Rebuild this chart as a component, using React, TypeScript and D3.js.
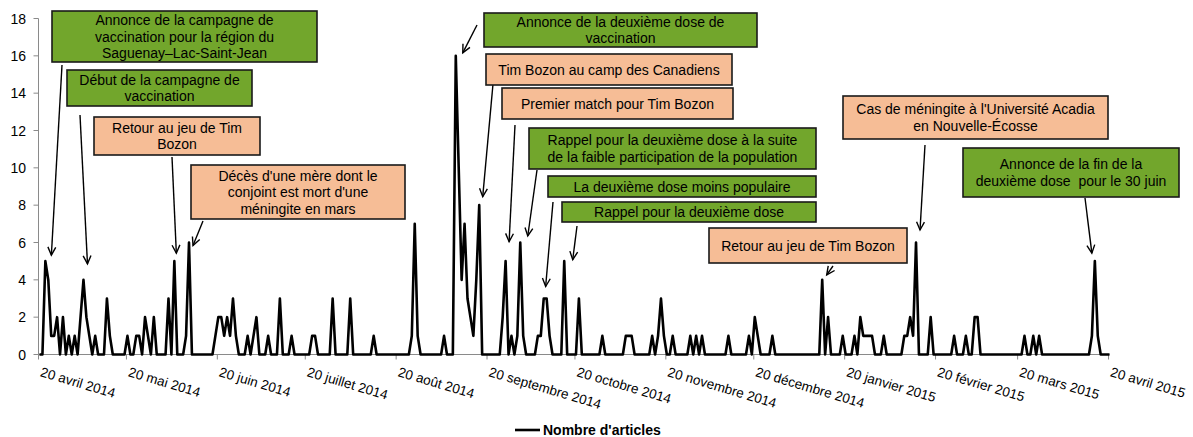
import React from 'react';
import * as d3 from 'd3';

// ---------- DATA ----------
const startDate = '2014-04-20';
// daily number of articles, from 20 April 2014 to 20 April 2015
const articleCounts = [
  0, 0, 5, 4, 1, 1, 2, 0, 2, 0,
  1, 0, 1, 0, 2, 4, 2, 1, 0, 1,
  0, 0, 0, 3, 1, 0, 0, 0, 0, 0,
  1, 0, 0, 1, 1, 0, 2, 1, 0, 2,
  0, 0, 0, 0, 3, 0, 5, 0, 0, 0,
  1, 6, 0, 0, 0, 0, 0, 0, 0, 0,
  1, 2, 2, 1, 2, 1, 3, 1, 0, 0,
  0, 1, 0, 1, 2, 0, 0, 0, 1, 0,
  0, 0, 3, 0, 0, 0, 1, 0, 0, 0,
  0, 0, 0, 1, 1, 0, 0, 0, 0, 0,
  3, 0, 0, 0, 0, 0, 3, 0, 0, 0,
  0, 0, 0, 0, 1, 0, 0, 0, 0, 0,
  0, 0, 0, 0, 0, 0, 0, 1, 7, 1,
  0, 0, 0, 0, 0, 0, 0, 0, 1, 0,
  0, 0, 16, 10, 4, 7, 3, 2, 1, 4,
  8, 0, 0, 0, 0, 0, 0, 0, 2, 5,
  0, 1, 0, 1, 6, 1, 0, 0, 0, 0,
  1, 1, 3, 3, 1, 0, 0, 0, 0, 5,
  0, 0, 0, 0, 3, 0, 0, 0, 0, 0,
  0, 0, 1, 0, 0, 0, 0, 0, 0, 0,
  1, 1, 1, 0, 0, 0, 0, 0, 0, 1,
  0, 1, 3, 1, 0, 0, 1, 0, 0, 0,
  0, 0, 1, 0, 1, 0, 1, 0, 0, 0,
  0, 0, 0, 0, 0, 1, 0, 0, 0, 0,
  0, 0, 1, 0, 2, 1, 0, 0, 0, 0,
  1, 0, 0, 0, 0, 0, 0, 0, 0, 0,
  0, 0, 0, 0, 0, 0, 0, 4, 0, 2,
  0, 0, 0, 0, 1, 0, 0, 0, 1, 0,
  2, 1, 1, 1, 1, 0, 0, 0, 1, 0,
  0, 0, 0, 0, 0, 1, 1, 2, 1, 6,
  0, 0, 0, 0, 2, 0, 0, 0, 0, 0,
  0, 0, 1, 0, 0, 0, 1, 0, 0, 2,
  2, 0, 0, 0, 0, 0, 0, 0, 0, 0,
  0, 0, 0, 0, 0, 0, 1, 0, 0, 1,
  0, 1, 0, 0, 0, 0, 0, 0, 0, 0,
  0, 0, 0, 0, 0, 0, 0, 0, 0, 1,
  5, 1, 0, 0, 0, 0,
];

const xTickDates = [
  '2014-04-20', '2014-05-20', '2014-06-20', '2014-07-20', '2014-08-20', '2014-09-20',
  '2014-10-20', '2014-11-20', '2014-12-20', '2015-01-20', '2015-02-20', '2015-03-20', '2015-04-20',
];
const xTickLabels = [
  '20 avril 2014', '20 mai 2014', '20 juin 2014', '20 juillet 2014', '20 août 2014',
  '20 septembre 2014', '20 octobre 2014', '20 novembre 2014', '20 décembre 2014',
  '20 janvier 2015', '20 février 2015', '20 mars 2015', '20 avril 2015',
];
const yTicks = [0, 2, 4, 6, 8, 10, 12, 14, 16, 18];
const seriesName = "Nombre d'articles";

const annotationTexts = [
  ['Annonce de la campagne de', 'vaccination pour la région du', 'Saguenay–Lac-Saint-Jean'],
  ['Début de la campagne de', 'vaccination'],
  ['Retour au jeu de Tim', 'Bozon'],
  ["Décès d'une mère dont le", "conjoint est mort d'une", 'méningite en mars'],
  ['Annonce de la deuxième dose de', 'vaccination'],
  ['Tim Bozon au camp des Canadiens'],
  ['Premier match pour Tim Bozon'],
  ['Rappel pour la deuxième dose à la suite', 'de la faible participation de la population'],
  ['La deuxième dose moins populaire'],
  ['Rappel pour la deuxième dose'],
  ['Retour au jeu de Tim Bozon'],
  ["Cas de méningite à l'Université Acadia", 'en Nouvelle-Écosse'],
  ['Annonce de la fin de la', 'deuxième dose  pour le 30 juin'],
];
const annotationKinds = ['vaccin', 'vaccin', 'bozon', 'bozon', 'vaccin', 'bozon', 'bozon', 'vaccin', 'vaccin', 'vaccin', 'bozon', 'bozon', 'vaccin'];
// day index (from startDate) each annotation points to
const annotationTargets = [2, 15, 46, 51, 142, 150, 159, 164, 173, 179, 267, 299, 360];

// ---------- LAYOUT ----------
const W = 1193;
const H = 437;
const plot = { left: 38.5, right: 1108.5, top: 18.5, bottom: 354.5 };
const lineShift = 1; // series drawn one pixel right of the tick grid, as in the reference
// box [x0, y0, x1, y1], arrow start [x, y], arrow tip offset from target point [dx, dy]
const annotationLayout = [
  { box: [52, 11, 317, 62], from: [62, 65], tip: [7, -6] },
  { box: [67, 70, 252, 106], from: [80, 115], tip: [5, -16] },
  { box: [94, 117, 260, 155], from: [172, 157], tip: [3, -8] },
  { box: [191, 165, 405, 219], from: [203, 221], tip: [5, 3] },
  { box: [484, 13, 757, 47], from: [477, 25], tip: [8, -3] },
  { box: [486, 54, 732, 85], from: [493, 84], tip: [4.5, -8.5] },
  { box: [502, 88, 733, 119], from: [515, 125], tip: [4.5, -19.5] },
  { box: [529, 128, 816, 169], from: [537, 170], tip: [8.5, -6.5] },
  { box: [548, 176, 816, 197], from: [553, 202], tip: [0, -12] },
  { box: [562, 202, 816, 222], from: [577, 226], tip: [9.5, -1.5] },
  { box: [709, 228, 907, 263], from: [833, 266], tip: [5.5, -5] },
  { box: [843, 96, 1108, 139], from: [925, 145], tip: [5, -12.5] },
  { box: [963, 148, 1179, 197], from: [1085, 198], tip: [-2, -8] },
];
const fills: Record<string, string> = { vaccin: '#72a62c', bozon: '#f6bd96' };
const FONT = "'Liberation Sans', Arial, Helvetica, sans-serif";
const AXIS = '#8a8a8a';

export default function App() {
  const parse = d3.timeParse('%Y-%m-%d');
  const t0 = parse(startDate) as Date;
  const dates = articleCounts.map((_, i) => d3.timeDay.offset(t0, i));
  const x = d3
    .scaleTime()
    .domain([parse(xTickDates[0]) as Date, parse(xTickDates[xTickDates.length - 1]) as Date])
    .range([plot.left, plot.right]);
  const y = d3.scaleLinear().domain([0, 18]).range([plot.bottom, plot.top]);

  const line = d3
    .line<number>()
    .x((_, i) => x(dates[i]) + lineShift)
    .y((d) => y(d));
  const path = line(articleCounts) || '';

  const lh = 16.5;

  return (
    <svg
      width={W}
      height={H}
      viewBox={`0 0 ${W} ${H}`}
      style={{ position: 'absolute', left: 0, top: 0, background: '#fff' }}
      fontFamily={FONT}
    >
      <rect x={0} y={0} width={W} height={H} fill="#fff" />
      {/* y axis */}
      <line x1={plot.left} x2={plot.left} y1={y(18)} y2={y(0)} stroke={AXIS} strokeWidth={1} />
      {yTicks.map((t) => (
        <g key={t}>
          <line x1={plot.left - 5} x2={plot.left} y1={y(t)} y2={y(t)} stroke={AXIS} strokeWidth={1} />
          <text x={26} y={y(t) + 5} textAnchor="end" fontSize={14} fill="#000">
            {t}
          </text>
        </g>
      ))}
      {/* x axis */}
      <line x1={plot.left} x2={plot.right + 1} y1={y(0)} y2={y(0)} stroke={AXIS} strokeWidth={1} />
      {xTickDates.map((d, i) => {
        const xx = x(parse(d) as Date);
        return (
          <g key={d}>
            <line x1={xx} x2={xx} y1={y(0)} y2={y(0) + 5} stroke={AXIS} strokeWidth={1} />
            <text
              transform={`translate(${xx + 1},${376}) rotate(16.5)`}
              fontSize={13.5}
              fill="#000"
            >
              {xTickLabels[i]}
            </text>
          </g>
        );
      })}

      {/* series */}
      <path d={path} fill="none" stroke="#000" strokeWidth={2.6} strokeLinejoin="round" />

      {/* annotations */}
      {annotationTexts.map((lines, i) => {
        const L = annotationLayout[i];
        const [x0, y0, x1, y1] = L.box;
        const k = annotationTargets[i];
        const tx = x(dates[k]) + L.tip[0];
        const ty = y(articleCounts[k]) + L.tip[1];
        const [fx, fy] = L.from;
        const ang = Math.atan2(ty - fy, tx - fx);
        const ah = 9;
        const spread = 0.45;
        const a1 = [tx - ah * Math.cos(ang - spread), ty - ah * Math.sin(ang - spread)];
        const a2 = [tx - ah * Math.cos(ang + spread), ty - ah * Math.sin(ang + spread)];
        const cx = (x0 + x1) / 2;
        const cy = (y0 + y1) / 2;
        return (
          <g key={i}>
            <line x1={fx} y1={fy} x2={tx} y2={ty} stroke="#000" strokeWidth={1.4} />
            <polyline
              points={`${a1[0]},${a1[1]} ${tx},${ty} ${a2[0]},${a2[1]}`}
              fill="none"
              stroke="#000"
              strokeWidth={1.4}
            />
            <rect
              x={x0}
              y={y0}
              width={x1 - x0}
              height={y1 - y0}
              fill={fills[annotationKinds[i]]}
              stroke="#1a1a1a"
              strokeWidth={1.6}
            />
            {lines.map((s, j) => (
              <text
                key={j}
                x={cx}
                y={cy - ((lines.length - 1) / 2) * lh + j * lh + 5}
                textAnchor="middle"
                fontSize={14}
                fill="#000"
                style={{ whiteSpace: 'pre' }}
              >
                {s}
              </text>
            ))}
          </g>
        );
      })}

      {/* legend */}
      <line x1={515} x2={540} y1={430} y2={430} stroke="#000" strokeWidth={2.6} />
      <text x={543} y={435} fontSize={14} fontWeight="bold" fill="#000">
        {seriesName}
      </text>
    </svg>
  );
}
